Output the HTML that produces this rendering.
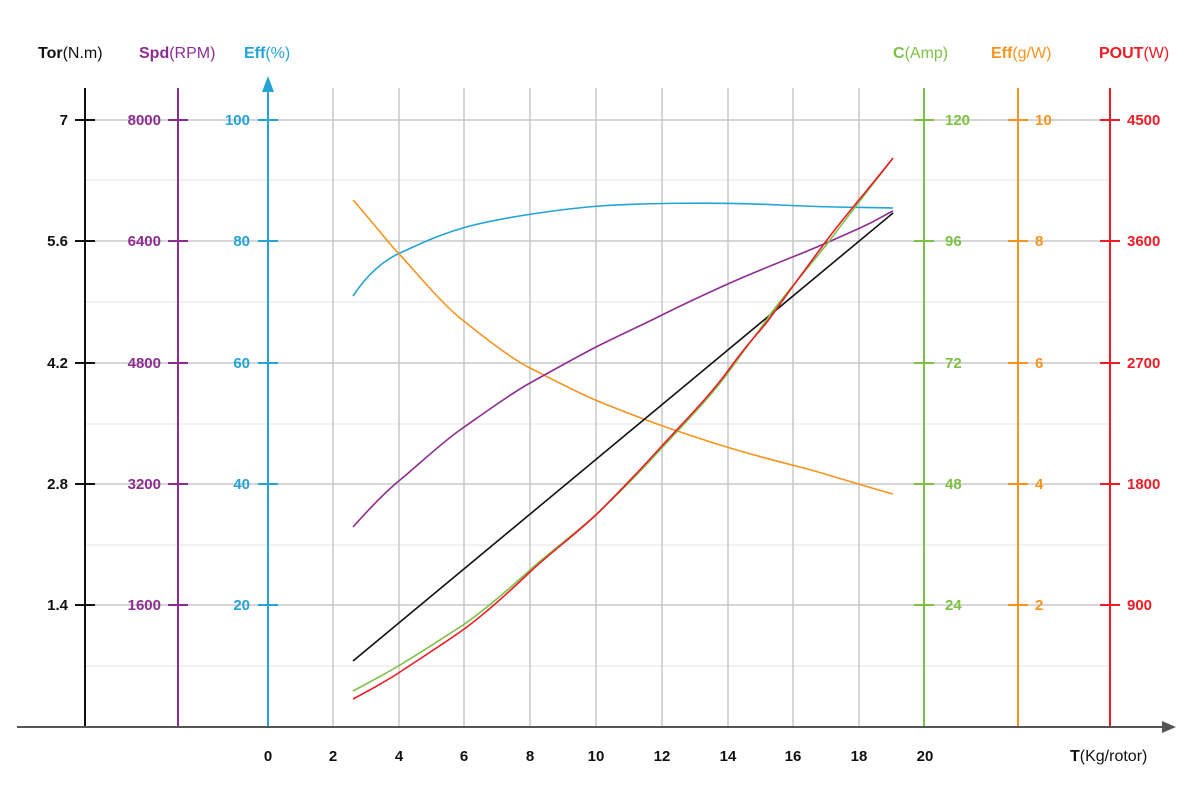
<!DOCTYPE html>
<html><head><meta charset="utf-8"><style>
body{margin:0;background:#fff}
svg text{font-family:"Liberation Sans",sans-serif;font-size:15px;font-weight:bold}
</style></head><body>
<svg width="1200" height="800" viewBox="0 0 1200 800" xmlns="http://www.w3.org/2000/svg">
<g stroke="#e6e6e6" stroke-width="1">
<line x1="85" y1="180" x2="1110" y2="180"/><line x1="85" y1="302" x2="1110" y2="302"/><line x1="85" y1="424" x2="1110" y2="424"/><line x1="85" y1="545" x2="1110" y2="545"/><line x1="85" y1="666" x2="1110" y2="666"/>
</g>
<g stroke="#c8c8c8" stroke-width="1.5">
<line x1="85" y1="120" x2="1110" y2="120"/><line x1="85" y1="241" x2="1110" y2="241"/><line x1="85" y1="363" x2="1110" y2="363"/><line x1="85" y1="484" x2="1110" y2="484"/><line x1="85" y1="605" x2="1110" y2="605"/>
<line x1="333" y1="88" x2="333" y2="727"/><line x1="399" y1="88" x2="399" y2="727"/><line x1="464" y1="88" x2="464" y2="727"/><line x1="530" y1="88" x2="530" y2="727"/><line x1="596" y1="88" x2="596" y2="727"/><line x1="662" y1="88" x2="662" y2="727"/><line x1="728" y1="88" x2="728" y2="727"/><line x1="793" y1="88" x2="793" y2="727"/><line x1="859" y1="88" x2="859" y2="727"/>
</g>
<g stroke-width="2">
<line x1="85" y1="88" x2="85" y2="727" stroke="#111"/>
<line x1="178" y1="88" x2="178" y2="727" stroke="#8e2d91"/>
<line x1="268" y1="88" x2="268" y2="727" stroke="#23a3d6"/>
<line x1="924" y1="88" x2="924" y2="727" stroke="#7cc144"/>
<line x1="1018" y1="88" x2="1018" y2="727" stroke="#f7941d"/>
<line x1="1110" y1="88" x2="1110" y2="727" stroke="#ee1c25"/>
</g>
<polygon points="268,76 262,92 274,92" fill="#23a3d6"/>
<line x1="17" y1="727" x2="1165" y2="727" stroke="#555" stroke-width="2"/>
<polygon points="1176,727 1162,721 1162,733" fill="#555"/>
<g stroke-width="2">
<g stroke="#111"><line x1="75" y1="120" x2="95" y2="120"/><line x1="75" y1="241" x2="95" y2="241"/><line x1="75" y1="363" x2="95" y2="363"/><line x1="75" y1="484" x2="95" y2="484"/><line x1="75" y1="605" x2="95" y2="605"/></g>
<g stroke="#8e2d91"><line x1="168" y1="120" x2="188" y2="120"/><line x1="168" y1="241" x2="188" y2="241"/><line x1="168" y1="363" x2="188" y2="363"/><line x1="168" y1="484" x2="188" y2="484"/><line x1="168" y1="605" x2="188" y2="605"/></g>
<g stroke="#23a3d6"><line x1="258" y1="120" x2="278" y2="120"/><line x1="258" y1="241" x2="278" y2="241"/><line x1="258" y1="363" x2="278" y2="363"/><line x1="258" y1="484" x2="278" y2="484"/><line x1="258" y1="605" x2="278" y2="605"/></g>
<g stroke="#7cc144"><line x1="914" y1="120" x2="934" y2="120"/><line x1="914" y1="241" x2="934" y2="241"/><line x1="914" y1="363" x2="934" y2="363"/><line x1="914" y1="484" x2="934" y2="484"/><line x1="914" y1="605" x2="934" y2="605"/></g>
<g stroke="#f7941d"><line x1="1008" y1="120" x2="1028" y2="120"/><line x1="1008" y1="241" x2="1028" y2="241"/><line x1="1008" y1="363" x2="1028" y2="363"/><line x1="1008" y1="484" x2="1028" y2="484"/><line x1="1008" y1="605" x2="1028" y2="605"/></g>
<g stroke="#ee1c25"><line x1="1100" y1="120" x2="1120" y2="120"/><line x1="1100" y1="241" x2="1120" y2="241"/><line x1="1100" y1="363" x2="1120" y2="363"/><line x1="1100" y1="484" x2="1120" y2="484"/><line x1="1100" y1="605" x2="1120" y2="605"/></g>
</g>
<g text-anchor="end" fill="#111"><text x="68" y="125">7</text><text x="68" y="246">5.6</text><text x="68" y="368">4.2</text><text x="68" y="489">2.8</text><text x="68" y="610">1.4</text></g>
<g text-anchor="end" fill="#8e2d91"><text x="161" y="125">8000</text><text x="161" y="246">6400</text><text x="161" y="368">4800</text><text x="161" y="489">3200</text><text x="161" y="610">1600</text></g>
<g text-anchor="end" fill="#23a3d6"><text x="250" y="125">100</text><text x="250" y="246">80</text><text x="250" y="368">60</text><text x="250" y="489">40</text><text x="250" y="610">20</text></g>
<g fill="#7cc144"><text x="945" y="125">120</text><text x="945" y="246">96</text><text x="945" y="368">72</text><text x="945" y="489">48</text><text x="945" y="610">24</text></g>
<g fill="#f7941d"><text x="1035" y="125">10</text><text x="1035" y="246">8</text><text x="1035" y="368">6</text><text x="1035" y="489">4</text><text x="1035" y="610">2</text></g>
<g fill="#ee1c25"><text x="1127" y="125">4500</text><text x="1127" y="246">3600</text><text x="1127" y="368">2700</text><text x="1127" y="489">1800</text><text x="1127" y="610">900</text></g>
<g text-anchor="middle" fill="#111" font-size="16"><text x="268" y="761">0</text><text x="333" y="761">2</text><text x="399" y="761">4</text><text x="464" y="761">6</text><text x="530" y="761">8</text><text x="596" y="761">10</text><text x="662" y="761">12</text><text x="728" y="761">14</text><text x="793" y="761">16</text><text x="859" y="761">18</text><text x="925" y="761">20</text></g>
<text x="1070" y="761" fill="#111" style="font-size:16px">T<tspan font-weight="normal">(Kg/rotor)</tspan></text>
<g style="font-size:16px">
<text x="38" y="58" fill="#111" style="font-size:16px">Tor<tspan font-weight="normal">(N.m)</tspan></text>
<text x="139" y="58" fill="#8e2d91" style="font-size:16px">Spd<tspan font-weight="normal">(RPM)</tspan></text>
<text x="244" y="58" fill="#23a3d6" style="font-size:16px">Eff<tspan font-weight="normal">(%)</tspan></text>
<text x="893" y="58" fill="#7cc144" style="font-size:16px">C<tspan font-weight="normal">(Amp)</tspan></text>
<text x="991" y="58" fill="#f7941d" style="font-size:16px">Eff<tspan font-weight="normal">(g/W)</tspan></text>
<text x="1099" y="58" fill="#ee1c25" style="font-size:16px">POUT<tspan font-weight="normal">(W)</tspan></text>
</g>
<g fill="none" stroke-width="1.6">
<path stroke="#23a3d6" d="M353,296 C365,278 380,262 400,253 S440,234 470,226 S560,209 600,206 S720,202 780,205 S860,207 893,208"/>
<path stroke="#f7941d" d="M353,200 C375,225 390,245 400,255 S440,302 460,318 S510,358 530,368 S580,394 600,402 S640,418 660,425 S710,442 730,448 S780,462 800,467 S870,488 893,494"/>
<path stroke="#8e2d91" d="M353,527 C370,508 385,492 400,480 S440,444 460,430 S510,394 530,383 S580,355 600,345 S640,326 660,316 S710,292 730,283 S780,262 800,254 S840,237 860,228 S886,214 893,211"/>
<path stroke="#111" d="M353,661 L893,213"/>
<path stroke="#7cc144" d="M353,691 C370,682 385,674 400,665 S440,640 460,627 S510,588 530,570 S580,530 600,511 S640,472 660,450 S710,398 730,370 S760,330 770,315 S815,260 830,240 S880,175 893,158"/>
<path stroke="#ee1c25" d="M353,699 C370,690 385,682 400,672 S440,646 460,632 S510,591 530,572 S580,531 600,511 S640,470 660,448 S710,396 730,368 S760,332 770,318 S815,256 830,236 S880,175 893,158"/>
</g>
</svg>
</body></html>
